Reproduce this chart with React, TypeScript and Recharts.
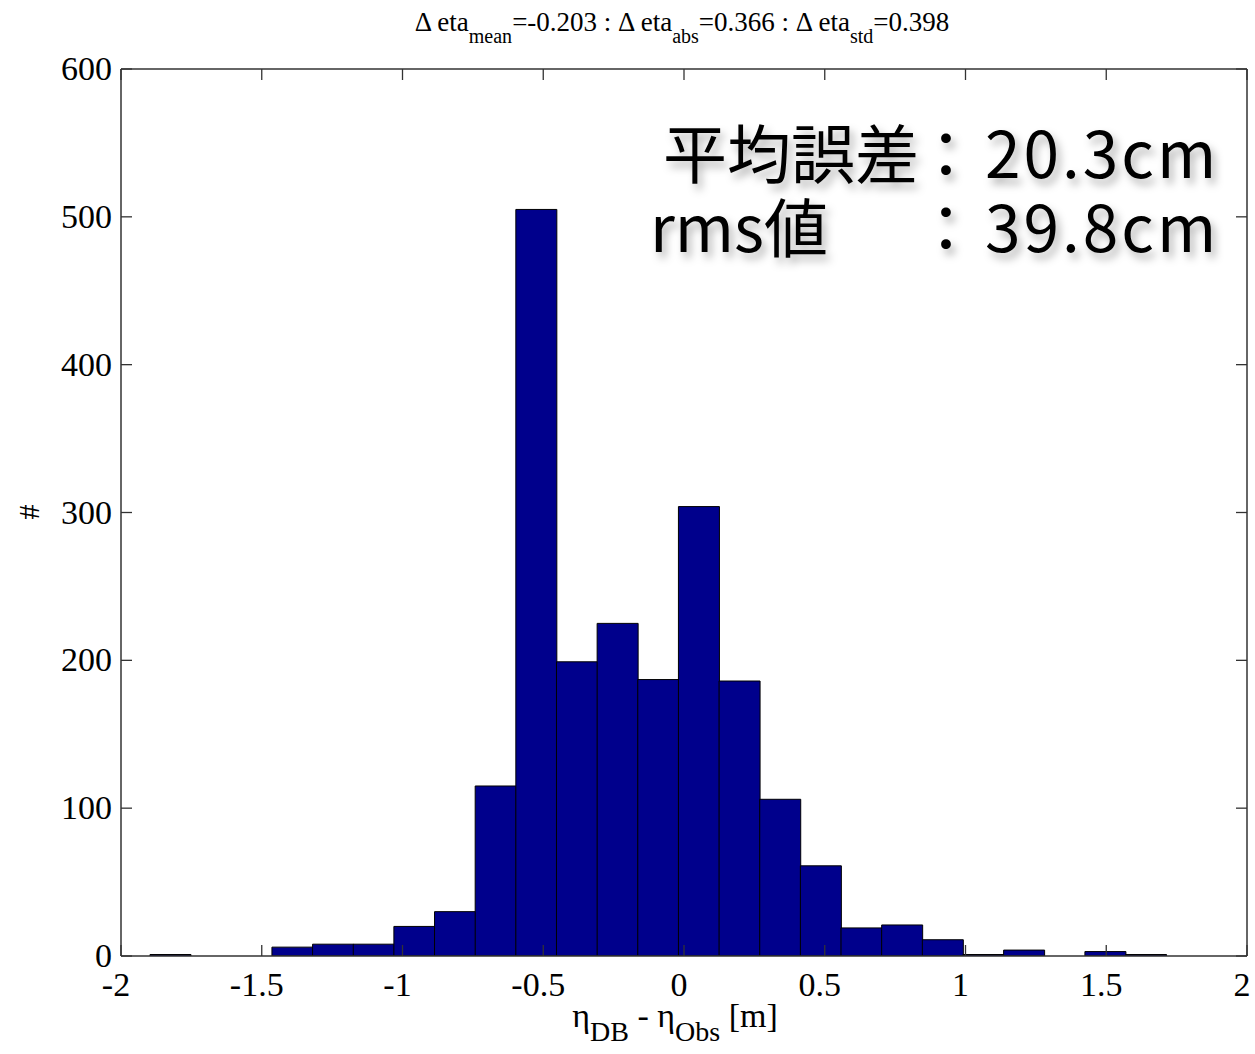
import React from 'react';
import { ComposedChart, Bar, Line, XAxis, YAxis } from 'recharts';

// Histogram bin centres (m) and counts
const binCenters = [
  -1.8248, -1.6804, -1.536, -1.3916, -1.2472, -1.1028, -0.9584, -0.814, -0.6696,
  -0.5252, -0.3808, -0.2364, -0.092, 0.0524, 0.1968, 0.3412, 0.4856, 0.63, 0.7744,
  0.9188, 1.0632, 1.2076, 1.352, 1.4964, 1.6408,
];
const counts = [
  1, 0, 0, 6, 8, 8, 20, 30, 115, 505, 199, 225, 187, 304, 186, 106, 61, 19, 21, 11,
  1, 4, 0, 3, 1,
];
const xTicks = [-2, -1.5, -1, -0.5, 0, 0.5, 1, 1.5, 2];
const xTickLabels = ['-2', '-1.5', '-1', '-0.5', '0', '0.5', '1', '1.5', '2'];
const yTicks = [0, 100, 200, 300, 400, 500, 600];
const yTickLabels = ['0', '100', '200', '300', '400', '500', '600'];

const data = binCenters.map((c, i) => ({ x: c, n: counts[i] }));

const TICK = 11;
const AXIS_COLOR = '#333';
const serif = '"Liberation Serif", "Times New Roman", Times, serif';
const gothic = '"Noto Sans CJK JP", "Noto Sans", sans-serif';

function BottomTick(props: any) {
  const { x, y, payload } = props;
  const i = xTicks.indexOf(payload.value);
  return (
    <g>
      <line x1={x} x2={x} y1={y} y2={y - TICK} stroke={AXIS_COLOR} strokeWidth={1.3} />
      <text x={x - 5} y={y + 40} textAnchor="middle" fontFamily={serif} fontSize={34} fill="#000">
        {i >= 0 ? xTickLabels[i] : String(payload.value)}
      </text>
    </g>
  );
}

function TopTick(props: any) {
  const { x, y } = props;
  return <line x1={x} x2={x} y1={y} y2={y + TICK} stroke={AXIS_COLOR} strokeWidth={1.3} />;
}

function LeftTick(props: any) {
  const { x, y, payload } = props;
  const i = yTicks.indexOf(payload.value);
  return (
    <g>
      <line x1={x} x2={x + TICK} y1={y} y2={y} stroke={AXIS_COLOR} strokeWidth={1.3} />
      <text x={x - 9} y={y + 11} textAnchor="end" fontFamily={serif} fontSize={34} fill="#000">
        {i >= 0 ? yTickLabels[i] : String(payload.value)}
      </text>
    </g>
  );
}

function RightTick(props: any) {
  const { x, y } = props;
  return <line x1={x} x2={x - TICK} y1={y} y2={y} stroke={AXIS_COLOR} strokeWidth={1.3} />;
}

export default function App() {
  return (
    <div style={{ position: 'absolute', left: 0, top: 0, width: 1255, height: 1054, background: '#fff' }}>
      <ComposedChart
        width={1255}
        height={1054}
        data={data}
        margin={{ top: 68, right: 7, left: 0, bottom: 0 }}
        barCategoryGap={0}
        barGap={0}
      >
        <XAxis
          dataKey="x"
          type="number"
          domain={[-2, 2]}
          ticks={xTicks}
          interval={0}
          allowDataOverflow
          height={98}
          tickSize={0}
          tickMargin={0}
          tickLine={false}
          tick={<BottomTick />}
          axisLine={{ stroke: AXIS_COLOR, strokeWidth: 1.5 }}
        />
        <XAxis
          xAxisId="top"
          orientation="top"
          dataKey="x"
          type="number"
          domain={[-2, 2]}
          ticks={xTicks}
          interval={0}
          allowDataOverflow
          height={1}
          tickSize={0}
          tickMargin={0}
          tickLine={false}
          tick={<TopTick />}
          axisLine={{ stroke: AXIS_COLOR, strokeWidth: 1.5 }}
        />
        <YAxis
          type="number"
          domain={[0, 600]}
          ticks={yTicks}
          interval={0}
          allowDataOverflow
          width={121}
          tickSize={0}
          tickMargin={0}
          tickLine={false}
          tick={<LeftTick />}
          axisLine={{ stroke: AXIS_COLOR, strokeWidth: 1.5 }}
        />
        <YAxis
          yAxisId="right"
          orientation="right"
          type="number"
          domain={[0, 600]}
          ticks={yTicks}
          interval={0}
          allowDataOverflow
          width={1}
          tickSize={0}
          tickMargin={0}
          tickLine={false}
          tick={<RightTick />}
          axisLine={{ stroke: AXIS_COLOR, strokeWidth: 1.5 }}
        />
        <Bar dataKey="n" fill="#00008C" stroke="#000" strokeWidth={1} isAnimationActive={false} />
        <Line
          xAxisId="top"
          yAxisId="right"
          dataKey="n"
          stroke="none"
          strokeOpacity={0}
          dot={false}
          activeDot={false}
          legendType="none"
          isAnimationActive={false}
        />
      </ComposedChart>
      <svg
        width={1255}
        height={1054}
        style={{ position: 'absolute', left: 0, top: 0, pointerEvents: 'none' }}
      >
        <defs>
          <filter id="soft" x="-10%" y="-30%" width="130%" height="170%">
            <feDropShadow dx={4} dy={6} stdDeviation={4} floodColor="#000" floodOpacity={0.3} />
          </filter>
        </defs>
        <text x={682} y={31} textAnchor="middle" fontFamily={serif} fontSize={27} fill="#000">
          <tspan>Δ eta</tspan>
          <tspan fontSize={20} dy={12}>mean</tspan>
          <tspan dy={-12}>=-0.203 : Δ eta</tspan>
          <tspan fontSize={20} dy={12}>abs</tspan>
          <tspan dy={-12}>=0.366 : Δ eta</tspan>
          <tspan fontSize={20} dy={12}>std</tspan>
          <tspan dy={-12}>=0.398</tspan>
        </text>
        <text x={675} y={1027} textAnchor="middle" fontFamily={serif} fontSize={34} fill="#000">
          <tspan>η</tspan>
          <tspan fontSize={28} dy={14}>DB</tspan>
          <tspan dy={-14}> - η</tspan>
          <tspan fontSize={28} dy={14}>Obs</tspan>
          <tspan dy={-14}> [m]</tspan>
        </text>
        <text
          x={28}
          y={512}
          textAnchor="middle"
          dominantBaseline="central"
          fontFamily={serif}
          fontSize={30}
          fill="#000"
          transform="rotate(-90 28 512)"
        >
          #
        </text>
        <g filter="url(#soft)" fontFamily={gothic} fontSize={64} fill="#000">
          <text y={178}>
            <tspan x={663}>平均誤差</tspan>
            <tspan x={914}>：</tspan>
            <tspan x={985} letterSpacing={3}>20.3cm</tspan>
          </text>
          <text y={252}>
            <tspan x={650}>rms値</tspan>
            <tspan x={914}>：</tspan>
            <tspan x={985} letterSpacing={3}>39.8cm</tspan>
          </text>
        </g>
      </svg>
    </div>
  );
}
